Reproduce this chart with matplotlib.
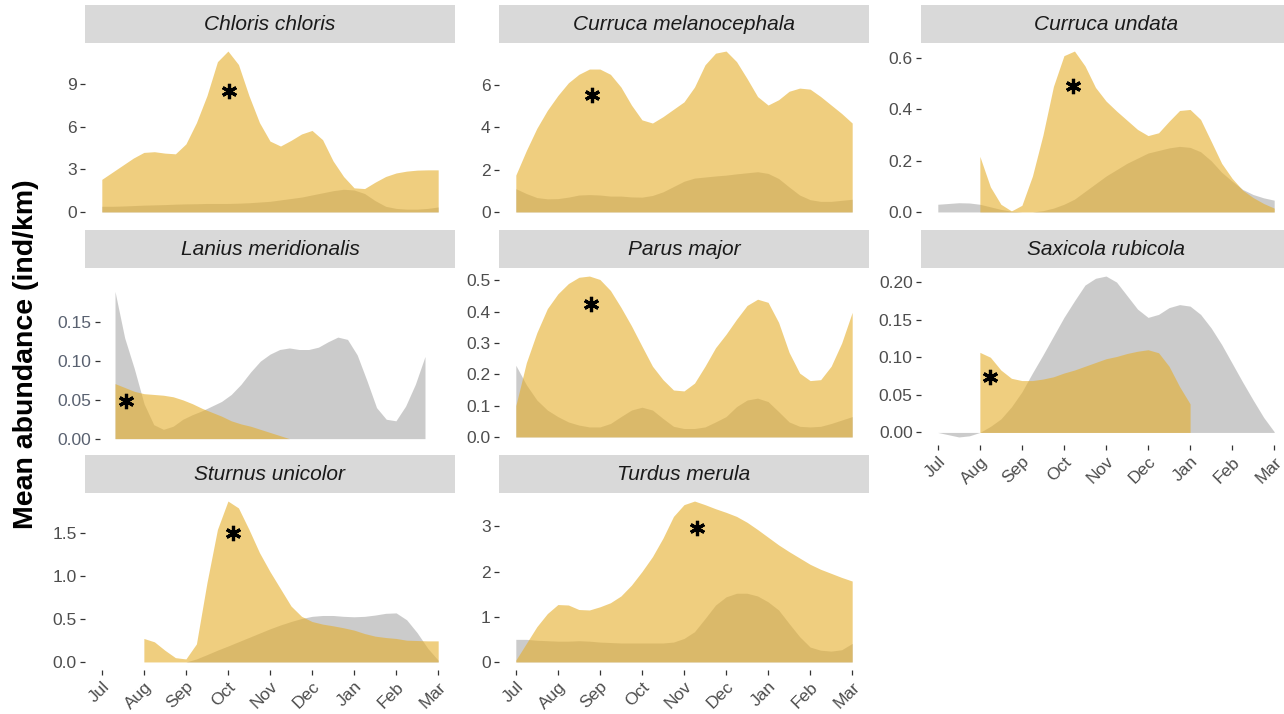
import numpy as np
import matplotlib
matplotlib.use('Agg')
import matplotlib.pyplot as plt

plt.rcParams['font.family'] = ['Liberation Sans', 'DejaVu Sans']

nan = np.nan

# months from Jul (0) to Mar (8), sampled every quarter month
months = np.arange(0, 8.25, 0.25)
month_labels = ['Jul', 'Aug', 'Sep', 'Oct', 'Nov', 'Dec', 'Jan', 'Feb', 'Mar']

species = ['Chloris chloris', 'Curruca melanocephala', 'Curruca undata',
           'Lanius meridionalis', 'Parus major', 'Saxicola rubicola',
           'Sturnus unicolor', 'Turdus merula']

# gold series (first group) and grey series (second group), ind/km
chloris_gold = [2.3, 2.8, 3.3, 3.8, 4.2, 4.25, 4.15, 4.1, 4.8, 6.3, 8.2, 10.6, 11.35, 10.4, 8.2, 6.3, 5.0,
                4.65, 5.05, 5.5, 5.75, 5.1, 3.6, 2.5, 1.7, 1.65, 2.1, 2.5, 2.75, 2.88, 2.95, 2.97, 2.97]
chloris_grey = [0.4, 0.4, 0.42, 0.45, 0.48, 0.5, 0.52, 0.55, 0.57, 0.58, 0.6, 0.6, 0.6, 0.62, 0.65, 0.7, 0.75,
                0.85, 0.95, 1.05, 1.2, 1.35, 1.5, 1.6, 1.55, 1.3, 0.8, 0.4, 0.25, 0.2, 0.2, 0.25, 0.35]

melano_gold = [1.74, 2.9, 3.95, 4.8, 5.5, 6.1, 6.5, 6.75, 6.75, 6.5, 5.9, 5.05, 4.35, 4.2, 4.5, 4.85, 5.2,
               5.9, 6.95, 7.5, 7.6, 7.1, 6.3, 5.45, 5.05, 5.3, 5.7, 5.85, 5.8, 5.45, 5.05, 4.65, 4.2]
melano_grey = [1.1, 0.87, 0.68, 0.62, 0.63, 0.7, 0.8, 0.82, 0.8, 0.75, 0.75, 0.71, 0.7, 0.78, 0.95, 1.2, 1.45,
               1.6, 1.65, 1.7, 1.74, 1.8, 1.85, 1.9, 1.82, 1.58, 1.18, 0.8, 0.58, 0.5, 0.5, 0.55, 0.6]

undata_gold = [nan, nan, nan, nan, 0.217, 0.098, 0.03, 0.004, 0.026, 0.14, 0.3, 0.49, 0.61, 0.628, 0.57,
               0.486, 0.433, 0.394, 0.358, 0.322, 0.298, 0.309, 0.354, 0.396, 0.4, 0.361, 0.276, 0.19, 0.131,
               0.085, 0.056, 0.033, 0.015]
undata_grey = [0.03, 0.033, 0.036, 0.035, 0.03, 0.02, 0.01, 0.003, 0.0, 0.0, 0.005, 0.015, 0.03, 0.05, 0.08,
               0.11, 0.14, 0.165, 0.19, 0.21, 0.23, 0.24, 0.25, 0.256, 0.252, 0.235, 0.2, 0.155, 0.12, 0.088,
               0.068, 0.055, 0.046]

lanius_gold = [0.071, 0.066, 0.061, 0.058, 0.057, 0.056, 0.054, 0.05, 0.045, 0.039, 0.034, 0.029, 0.023,
               0.019, 0.016, 0.012, 0.008, 0.004, 0.0, 0.0, 0.0, 0.0, 0.0, 0.0, 0.0, 0.0, 0.0, 0.0, 0.0,
               0.0, 0.0, 0.0, 0.0]
lanius_grey = [0.19, 0.13, 0.09, 0.045, 0.018, 0.012, 0.016, 0.025, 0.031, 0.036, 0.042, 0.048, 0.057, 0.07,
               0.086, 0.1, 0.109, 0.115, 0.117, 0.115, 0.115, 0.118, 0.125, 0.131, 0.128, 0.108, 0.075,
               0.04, 0.025, 0.023, 0.042, 0.07, 0.106]

parus_gold = [0.1, 0.237, 0.333, 0.41, 0.457, 0.49, 0.51, 0.514, 0.503, 0.468, 0.414, 0.355, 0.29, 0.226,
              0.183, 0.15, 0.147, 0.172, 0.226, 0.285, 0.328, 0.376, 0.42, 0.44, 0.43, 0.366, 0.27, 0.204,
              0.18, 0.183, 0.226, 0.3, 0.398]
parus_grey = [0.229, 0.167, 0.118, 0.086, 0.065, 0.048, 0.038, 0.032, 0.032, 0.043, 0.065, 0.086, 0.095,
              0.086, 0.059, 0.034, 0.027, 0.027, 0.032, 0.048, 0.065, 0.097, 0.118, 0.124, 0.113, 0.081,
              0.048, 0.034, 0.032, 0.034, 0.043, 0.054, 0.065]

saxicola_gold = [nan, nan, nan, nan, 0.1065, 0.1, 0.083, 0.072, 0.069, 0.069, 0.071, 0.074, 0.079, 0.083,
                 0.088, 0.093, 0.098, 0.101, 0.105, 0.108, 0.11, 0.106, 0.088, 0.061, 0.038,
                 nan, nan, nan, nan, nan, nan, nan, nan]
saxicola_grey = [0.0, -0.003, -0.006, -0.0045, 0.0, 0.008, 0.018, 0.034, 0.054, 0.079, 0.103, 0.128, 0.153,
                 0.175, 0.196, 0.205, 0.208, 0.2, 0.182, 0.164, 0.153, 0.157, 0.166, 0.17, 0.168, 0.157,
                 0.139, 0.117, 0.092, 0.067, 0.043, 0.02, 0.001]

sturnus_gold = [nan, nan, nan, nan, 0.273, 0.234, 0.136, 0.05, 0.035, 0.21, 0.92, 1.54, 1.87, 1.79, 1.54,
                1.27, 1.05, 0.85, 0.65, 0.53, 0.47, 0.44, 0.42, 0.397, 0.37, 0.33, 0.3, 0.284, 0.273, 0.253,
                0.249, 0.245, 0.245]
sturnus_grey = [nan, nan, nan, nan, nan, nan, nan, nan, 0.0, 0.035, 0.085, 0.137, 0.185, 0.235, 0.285,
                0.335, 0.385, 0.43, 0.47, 0.505, 0.53, 0.54, 0.54, 0.53, 0.525, 0.53, 0.545, 0.565, 0.57,
                0.49, 0.34, 0.16, 0.02]

turdus_gold = [0.04, 0.41, 0.78, 1.07, 1.27, 1.26, 1.16, 1.15, 1.22, 1.31, 1.46, 1.7, 2.0, 2.33, 2.74, 3.22,
               3.48, 3.56, 3.48, 3.39, 3.31, 3.22, 3.09, 2.93, 2.76, 2.59, 2.44, 2.3, 2.16, 2.05, 1.96, 1.87,
               1.79]
turdus_grey = [0.5, 0.5, 0.48, 0.47, 0.46, 0.46, 0.47, 0.46, 0.44, 0.43, 0.42, 0.42, 0.42, 0.42, 0.42, 0.44,
               0.52, 0.67, 0.96, 1.26, 1.44, 1.52, 1.52, 1.46, 1.33, 1.15, 0.85, 0.56, 0.33, 0.26, 0.24, 0.27,
               0.41]

gold_series = [chloris_gold, melano_gold, undata_gold, lanius_gold, parus_gold, saxicola_gold,
               sturnus_gold, turdus_gold]
grey_series = [chloris_grey, melano_grey, undata_grey, lanius_grey, parus_grey, saxicola_grey,
               sturnus_grey, turdus_grey]

# asterisk positions (month, abundance)
star_month = [3.03, 1.81, 3.21, 0.28, 1.78, 1.25, 3.12, 4.32]
star_value = [8.53, 5.53, 0.49, 0.048, 0.425, 0.074, 1.5, 2.96]

# y ticks per panel
y_ticks = [[0, 3, 6, 9], [0, 2, 4, 6], [0, 0.2, 0.4, 0.6], [0, 0.05, 0.10, 0.15],
           [0, 0.1, 0.2, 0.3, 0.4, 0.5], [0, 0.05, 0.10, 0.15, 0.20], [0, 0.5, 1.0, 1.5], [0, 1, 2, 3]]
y_ticklabels = [['0', '3', '6', '9'], ['0', '2', '4', '6'], ['0.0', '0.2', '0.4', '0.6'],
                ['0.00', '0.05', '0.10', '0.15'], ['0.0', '0.1', '0.2', '0.3', '0.4', '0.5'],
                ['0.00', '0.05', '0.10', '0.15', '0.20'], ['0.0', '0.5', '1.0', '1.5'], ['0', '1', '2', '3']]

gold_colour = '#E5AE2A'
grey_colour = '#7F7F7F'
strip_colour = '#D9D9D9'

W, H = 1284, 714
fig = plt.figure(figsize=(W / 100, H / 100), dpi=100)


def px_axes(left, top, width, height):
    # axes placed with pixel coordinates measured from the top-left corner
    return fig.add_axes([left / W, 1 - (top + height) / H, width / W, height / H])


col_left = [85, 499, 921]
strip_top = [5, 230, 455]
panel_w = 370
strip_h = 38
panel_h = 177

for i in range(len(species)):
    row = i // 3
    col = i % 3
    left = col_left[col]
    top = strip_top[row]

    # strip with the species name
    ax_s = px_axes(left, top, panel_w, strip_h)
    ax_s.set_facecolor(strip_colour)
    ax_s.set_xticks([])
    ax_s.set_yticks([])
    for sp in ax_s.spines.values():
        sp.set_visible(False)
    ax_s.text(0.5, 0.48, species[i], transform=ax_s.transAxes, ha='center', va='center',
              fontsize=15, style='italic', color='#1A1A1A')

    # panel (Lanius panel is a bit smaller in the original figure)
    if species[i] == 'Lanius meridionalis':
        ax = px_axes(99.5, 284, 341, 162)
        label_colour = '#596170'
    else:
        ax = px_axes(left, top + strip_h, panel_w, panel_h)
        label_colour = '#4D4D4D'

    gold = np.array(gold_series[i], dtype=float)
    grey = np.array(grey_series[i], dtype=float)

    ax.fill_between(months, 0, grey, color=grey_colour, alpha=0.4, linewidth=0)
    ax.fill_between(months, 0, gold, color=gold_colour, alpha=0.6, linewidth=0)
    ax.plot(star_month[i], star_value[i], marker=(6, 2, 0), markersize=11, markeredgewidth=2.3,
            color='black', linestyle='none')

    # ggplot-like 5% expansion
    lo = min(0, np.nanmin(gold), np.nanmin(grey))
    hi = max(np.nanmax(gold), np.nanmax(grey))
    pad = 0.05 * (hi - lo)
    ax.set_ylim(lo - pad, hi + pad)
    ax.set_xlim(-0.4, 8.4)

    for sp in ax.spines.values():
        sp.set_visible(False)
    ax.set_facecolor('white')

    ax.set_yticks(y_ticks[i])
    ax.set_yticklabels(y_ticklabels[i])
    ax.tick_params(axis='y', length=3.5, width=0.9, color='#333333', labelcolor=label_colour,
                   labelsize=12.5, pad=2.5)

    # x axis only on bottom panels of each column
    if species[i] in ['Saxicola rubicola', 'Sturnus unicolor', 'Turdus merula']:
        ax.set_xticks(range(9))
        ax.set_xticklabels(month_labels, rotation=45, ha='right', rotation_mode='anchor')
        ax.tick_params(axis='x', length=3.5, width=0.9, color='#333333', labelcolor='#4D4D4D',
                       labelsize=12.5, pad=3)
    else:
        ax.set_xticks([])

fig.text(26 / W, 1 - 354 / H, 'Mean abundance (ind/km)', rotation=90, fontsize=20.5,
         fontweight='bold', ha='center', va='center', color='black')

plt.savefig('out.png', dpi=100)
